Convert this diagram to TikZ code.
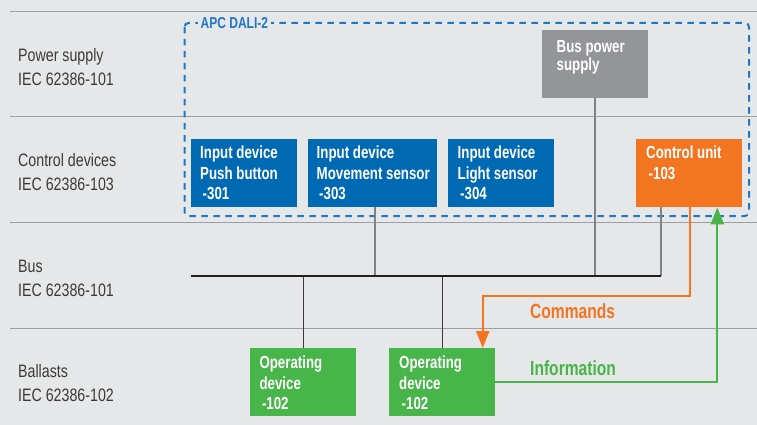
\documentclass[tikz,border=0pt]{standalone}
\usepackage{fontspec}
\setmainfont{Liberation Sans}[FakeStretch=0.79]
\newfontfamily\bfam{Liberation Sans}[FakeStretch=0.76]
\usetikzlibrary{arrows.meta,calc}
\definecolor{bg}{HTML}{E6E7E8}
\definecolor{sepgray}{HTML}{9D9FA2}
\definecolor{lab}{HTML}{3A3A3A}
\definecolor{boxblue}{HTML}{0069B4}
\definecolor{dashblue}{HTML}{1F77C4}
\definecolor{boxgray}{HTML}{939598}
\definecolor{cuorange}{HTML}{F37421}
\definecolor{opgreen}{HTML}{47B549}
\definecolor{conngray}{HTML}{808285}
\definecolor{busblack}{HTML}{231F20}
\begin{document}
\begin{tikzpicture}[x=1pt,y=-1pt,
  sep/.style={draw=sepgray,line width=1.3pt},
  lbl/.style={anchor=north west,inner sep=0pt,align=left,text=lab,font=\fontsize{18}{23.3}\selectfont},
  devbox/.style={draw=none,minimum width=106pt,minimum height=68pt,inner sep=0pt,anchor=north west},
  boxtext/.style={anchor=north west,inner sep=0pt,align=left,text=white,font=\bfam\bfseries\fontsize{17.5}{20.7}\selectfont},
  conn/.style={draw=conngray,line width=2pt},
  connd/.style={draw=lab,line width=1.4pt},
  busline/.style={draw=busblack,line width=2.4pt},
  flowtext/.style={anchor=base west,inner sep=0pt,font=\bfam\bfseries\fontsize{20.5}{24}\selectfont},
  cmdline/.style={draw=cuorange,line width=2.3pt,-{Triangle[width=13pt,length=17pt]}},
  infoline/.style={draw=opgreen,line width=2.3pt,-{Triangle[width=13pt,length=17pt]}}
]
\fill[bg] (0,0) rectangle (757,425);
\useasboundingbox (0,0) rectangle (757,425);

% separators
\draw[sep] (10,11.3) -- (757,11.3);
\draw[sep] (10,116.7) -- (757,116.7);
\draw[sep] (10,222.3) -- (757,222.3);
\draw[sep] (10,328.3) -- (757,328.3);

% row labels
\node[lbl] (lps) at (18,45.4) {\strut Power supply\\IEC 62386-101};
\node[lbl] (lcd) at (18,150.4) {\strut Control devices\\IEC 62386-103};
\node[lbl] (lbus) at (18,256.4) {\strut Bus\\IEC 62386-101};
\node[lbl] (lbal) at (18,361.4) {\strut Ballasts\\IEC 62386-102};

% APC DALI-2 dashed frame
\draw[dashblue,line width=2pt,dash pattern=on 6.5pt off 5.5pt,rounded corners=4pt]
  (184.5,23) rectangle (749,216);
\node[anchor=base west,fill=bg,inner xsep=3pt,inner ysep=2pt,text=dashblue,
  font=\bfam\bfseries\fontsize{15.8}{18}\selectfont] (apc) at (197.5,28.3) {APC DALI-2};

% bus
\coordinate (busL) at (191,276);
\coordinate (busR) at (661,276);

% boxes
\node[devbox,fill=boxgray] (bps) at (542,30) {};
\node[devbox,fill=boxblue] (pb) at (191,139) {};
\node[devbox,fill=boxblue,minimum width=129pt] (ms) at (308,139) {};
\node[devbox,fill=boxblue] (ls) at (448,139) {};
\node[devbox,fill=cuorange] (cu) at (636,139) {};
\node[devbox,fill=opgreen] (op1) at (250,348) {};
\node[devbox,fill=opgreen] (op2) at (389,348) {};

% connectors to bus
\draw[conn] (bps.south) -- (bps.south |- busL);
\draw[conn] (cu.south -| busR) -- (busR);
\draw[conn] ([xshift=2.5pt]ms.south) -- ([xshift=2.5pt]ms.south |- busL);
\draw[connd] (op1.north) -- (op1.north |- busL);
\draw[connd] (op2.north) -- (op2.north |- busL);
\draw[busline] (busL) -- (busR);

% box texts
\node[boxtext,font=\bfam\bfseries\fontsize{17.5}{18.4}\selectfont] (tbps) at (556.5,39.4) {\strut Bus power\\supply};
\node[boxtext] (tpb) at (200,143.8) {\strut Input device\\Push button\\\hspace{2.5pt}-301};
\node[boxtext] (tms) at (316.5,143.8) {\strut Input device\\Movement sensor\\\hspace{2.5pt}-303};
\node[boxtext] (tls) at (457.5,143.8) {\strut Input device\\Light sensor\\\hspace{2.5pt}-304};
\node[boxtext] (tcu) at (646,143.8) {\strut Control unit\\\hspace{2.5pt}-103};
\node[boxtext] (top1) at (259.3,353.8) {\strut Operating\\device\\\hspace{2.5pt}-102};
\node[boxtext] (top2) at (399,353.8) {\strut Operating\\device\\\hspace{2.5pt}-102};

% commands / information
\coordinate (cmdturn) at (482.7,296);
\draw[cmdline] ([xshift=54pt]cu.south west) |- (cmdturn) -- (cmdturn |- op2.north);
\draw[infoline] (op2.east) -| ([xshift=81.3pt]cu.south west);
\node[flowtext,text=cuorange] (tcmd) at (530,318.3) {Commands};
\node[flowtext,text=opgreen] (tinfo) at (530,375) {Information};
\end{tikzpicture}
\end{document}
